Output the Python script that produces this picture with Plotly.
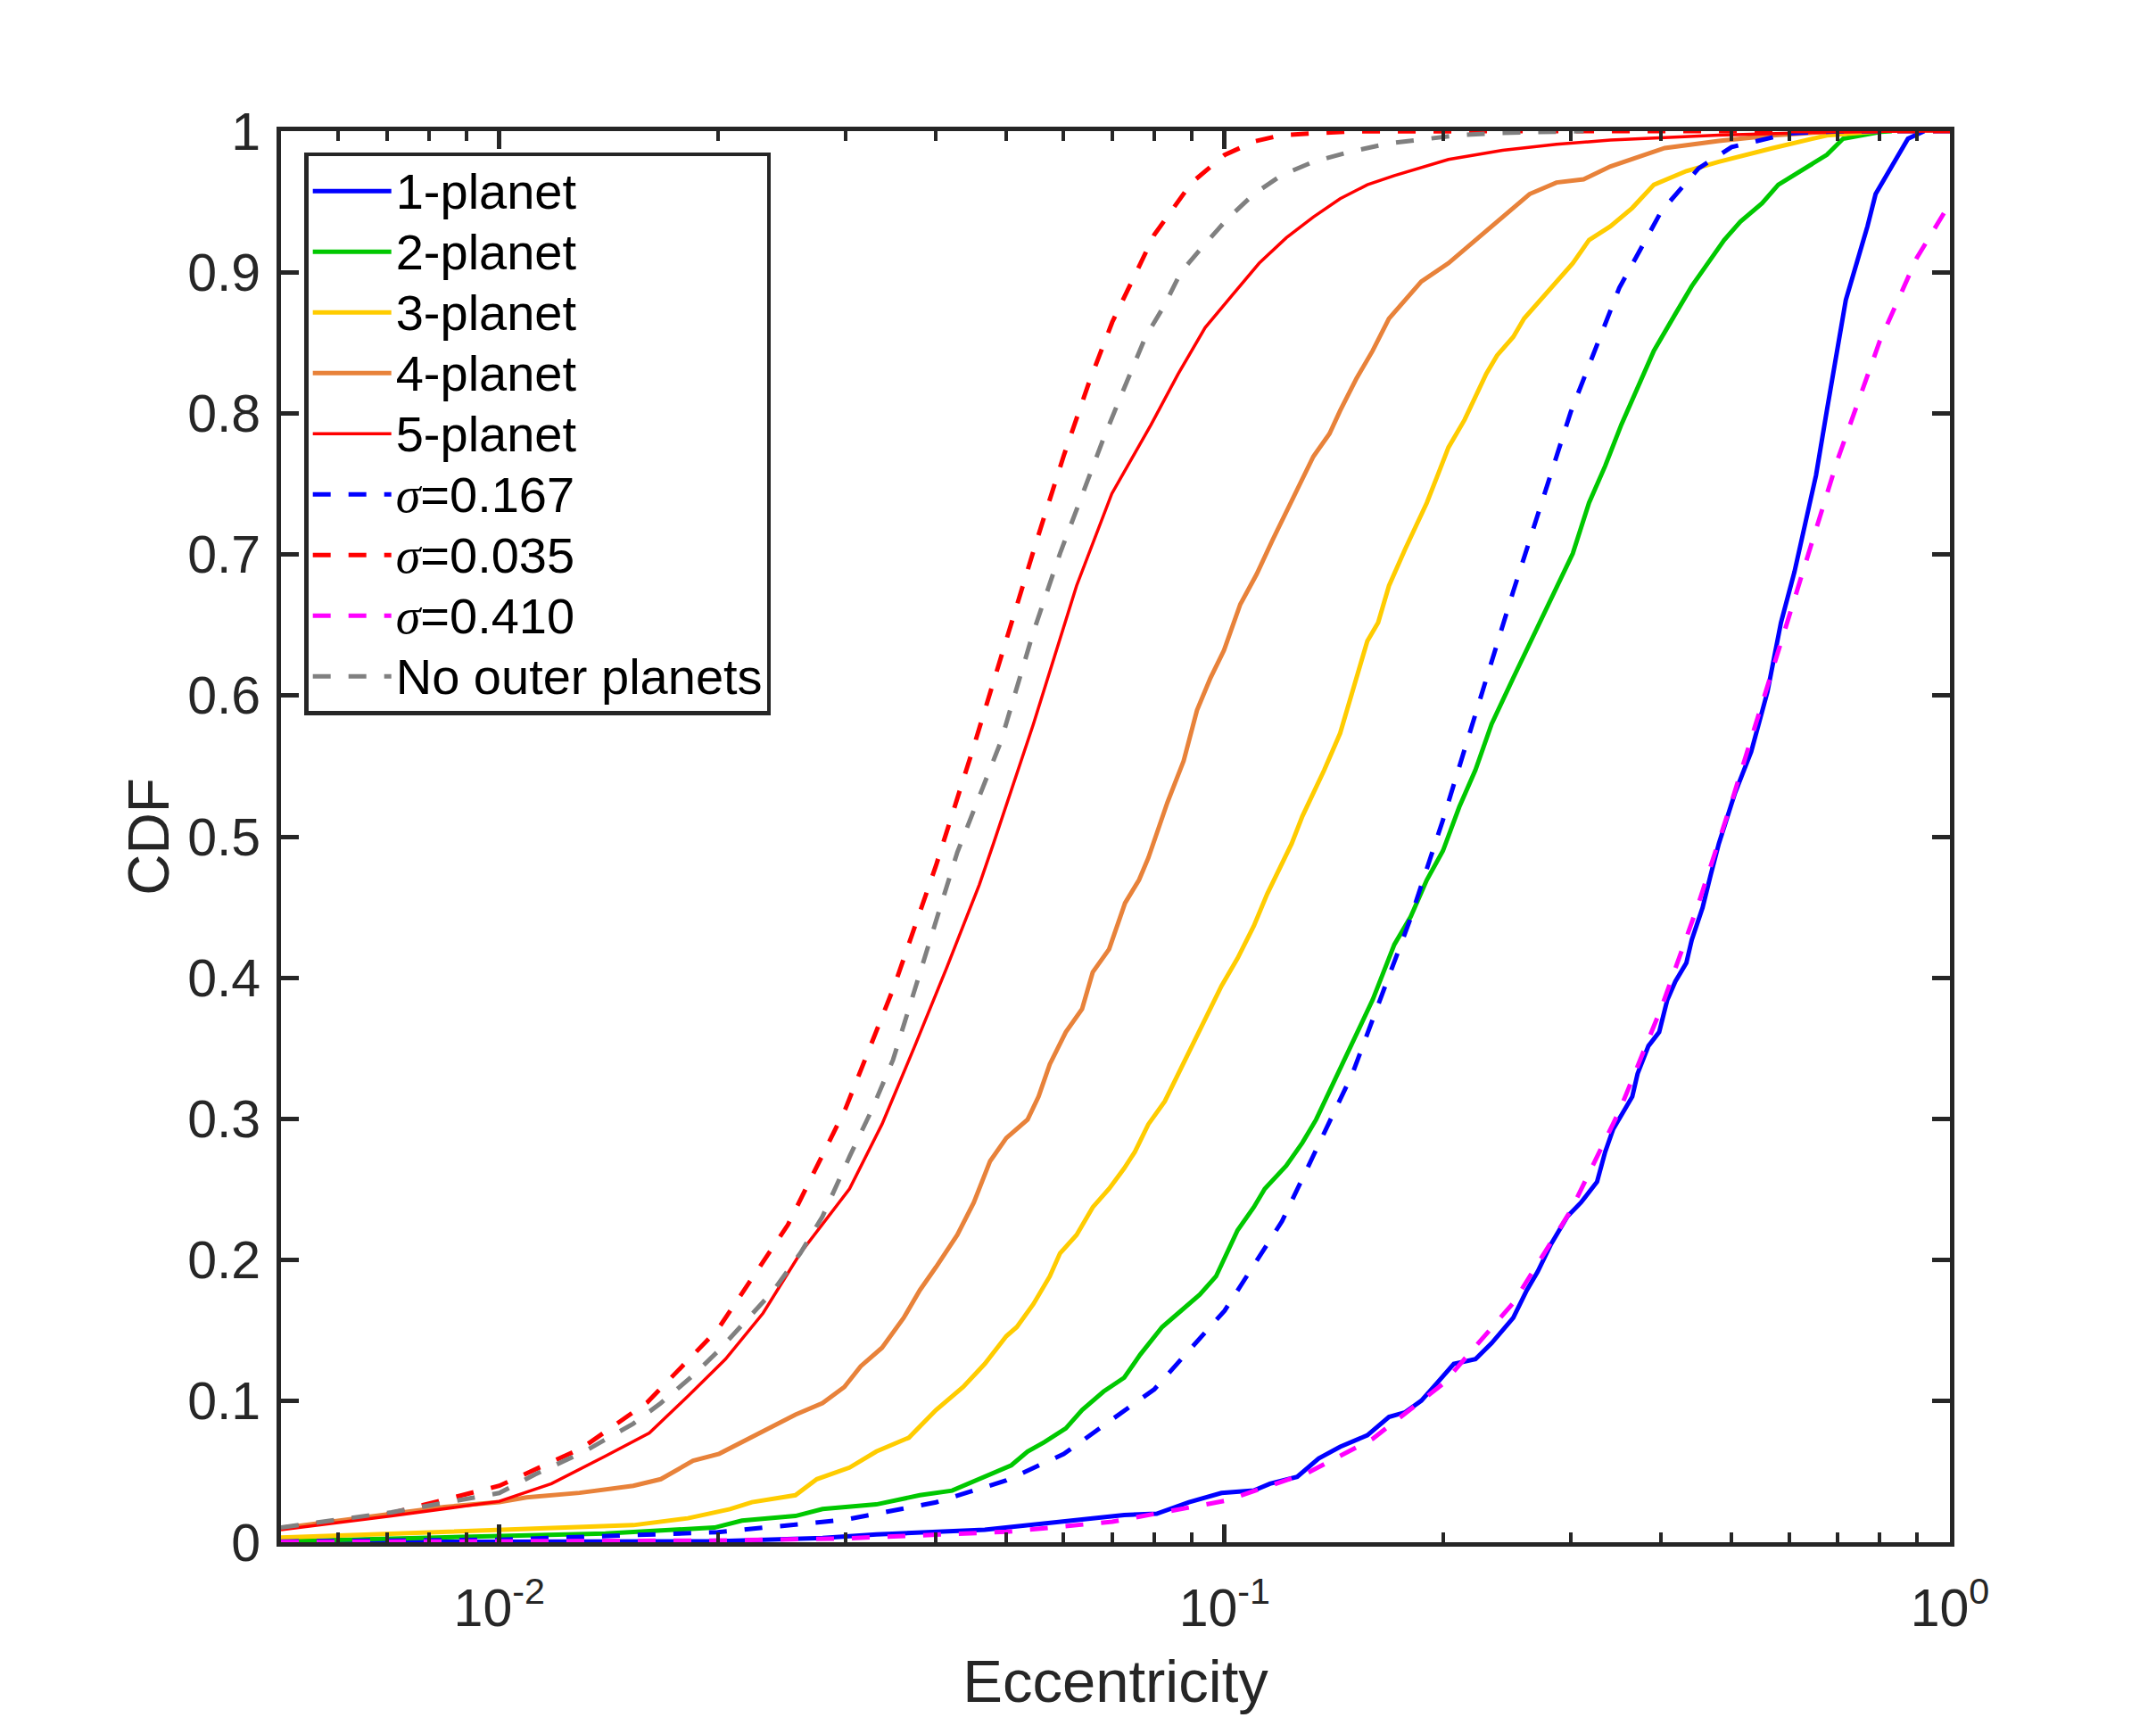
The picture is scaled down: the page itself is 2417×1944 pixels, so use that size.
import plotly.graph_objects as go

# ---- data (eccentricity, CDF) ----
e_1pl = [0.0050, 0.0198, 0.0279, 0.0331, 0.0467, 0.0658, 0.0727, 0.0806, 0.0893, 0.0990,
         0.1097, 0.1155, 0.1259, 0.1348, 0.1443, 0.1573, 0.1685, 0.1774, 0.1867, 0.1967,
         0.2070, 0.2217, 0.2334, 0.2500, 0.2610, 0.2701, 0.2819, 0.2969, 0.3099, 0.3262,
         0.3347, 0.3434, 0.3524, 0.3648, 0.3710, 0.3840, 0.3973, 0.4077, 0.4183, 0.4331,
         0.4406, 0.4560, 0.4677, 0.4801, 0.5053, 0.5321, 0.5603, 0.5848, 0.6104, 0.6316,
         0.6537, 0.6765, 0.7002, 0.7185, 0.7437, 0.7697, 0.7898, 0.8173, 0.8457, 0.8752,
         0.9215]
cdf_1pl = [0.0000, 0.0007, 0.0030, 0.0055, 0.0088, 0.0170, 0.0193, 0.0202, 0.0284, 0.0349,
           0.0366, 0.0415, 0.0464, 0.0594, 0.0676, 0.0758, 0.0888, 0.0921, 0.1003, 0.1134,
           0.1264, 0.1297, 0.1411, 0.1590, 0.1786, 0.1917, 0.2113, 0.2309, 0.2407, 0.2554,
           0.2766, 0.2929, 0.3027, 0.3158, 0.3321, 0.3517, 0.3615, 0.3844, 0.3975, 0.4105,
           0.4268, 0.4497, 0.4726, 0.4950, 0.5308, 0.5602, 0.6027, 0.6517, 0.6876, 0.7203,
           0.7562, 0.8019, 0.8476, 0.8803, 0.9064, 0.9326, 0.9554, 0.9685, 0.9815, 0.9946,
           1.0000]

e_2pl = [0.0050, 0.0100, 0.0140, 0.0198, 0.0216, 0.0256, 0.0279, 0.0331, 0.0380, 0.0421,
         0.0459, 0.0508, 0.0535, 0.0564, 0.0604, 0.0636, 0.0681, 0.0727, 0.0765, 0.0792,
         0.0820, 0.0863, 0.0924, 0.0973, 0.1007, 0.1042, 0.1097, 0.1136, 0.1216, 0.1280,
         0.1337, 0.1383, 0.1431, 0.1482, 0.1547, 0.1600, 0.1656, 0.1714, 0.1805, 0.1900,
         0.2000, 0.2106, 0.2217, 0.2334, 0.2500, 0.2679, 0.2868, 0.3020, 0.3180, 0.3347,
         0.3524, 0.3710, 0.3907, 0.4183, 0.4406, 0.4637, 0.4884, 0.5140, 0.5507, 0.5798,
         0.6316, 0.6765, 0.7122, 0.8031, 0.8313]
cdf_2pl = [0.0007, 0.0040, 0.0062, 0.0104, 0.0153, 0.0186, 0.0235, 0.0268, 0.0333, 0.0366,
           0.0447, 0.0545, 0.0643, 0.0709, 0.0807, 0.0937, 0.1068, 0.1166, 0.1330, 0.1427,
           0.1525, 0.1623, 0.1754, 0.1884, 0.2048, 0.2211, 0.2374, 0.2505, 0.2668, 0.2831,
           0.2995, 0.3158, 0.3321, 0.3485, 0.3681, 0.3844, 0.4040, 0.4236, 0.4432, 0.4693,
           0.4900, 0.5210, 0.5472, 0.5798, 0.6125, 0.6451, 0.6778, 0.7007, 0.7366, 0.7627,
           0.7921, 0.8182, 0.8444, 0.8705, 0.8901, 0.9064, 0.9228, 0.9358, 0.9489, 0.9620,
           0.9734, 0.9832, 0.9946, 0.9995, 1.0000]

e_3pl = [0.0050, 0.0071, 0.0100, 0.0153, 0.0182, 0.0208, 0.0223, 0.0256, 0.0274, 0.0304,
         0.0331, 0.0367, 0.0400, 0.0436, 0.0467, 0.0500, 0.0517, 0.0545, 0.0574, 0.0593,
         0.0625, 0.0658, 0.0693, 0.0727, 0.0752, 0.0785, 0.0827, 0.0863, 0.0909, 0.0948,
         0.0990, 0.1042, 0.1097, 0.1145, 0.1196, 0.1237, 0.1280, 0.1372, 0.1443, 0.1520,
         0.1573, 0.1628, 0.1685, 0.1774, 0.1836, 0.1900, 0.1967, 0.2035, 0.2142, 0.2217,
         0.2295, 0.2375, 0.2500, 0.2588, 0.2724, 0.2868, 0.3020, 0.3180, 0.3404, 0.3648,
         0.3907, 0.4331, 0.4801, 0.5700, 0.6765, 0.8031]
cdf_3pl = [0.0033, 0.0062, 0.0088, 0.0121, 0.0170, 0.0235, 0.0284, 0.0333, 0.0447, 0.0529,
           0.0643, 0.0741, 0.0937, 0.1100, 0.1264, 0.1460, 0.1525, 0.1688, 0.1884, 0.2048,
           0.2178, 0.2374, 0.2505, 0.2650, 0.2766, 0.2962, 0.3125, 0.3321, 0.3550, 0.3746,
           0.3942, 0.4138, 0.4367, 0.4595, 0.4791, 0.4950, 0.5145, 0.5472, 0.5733, 0.6125,
           0.6386, 0.6517, 0.6778, 0.7039, 0.7203, 0.7366, 0.7562, 0.7758, 0.7954, 0.8117,
           0.8281, 0.8411, 0.8542, 0.8672, 0.8803, 0.8934, 0.9064, 0.9228, 0.9326, 0.9456,
           0.9620, 0.9717, 0.9783, 0.9880, 0.9970, 1.0000]

e_4pl = [0.0050, 0.0084, 0.0100, 0.0109, 0.0129, 0.0153, 0.0167, 0.0185, 0.0201, 0.0216,
         0.0235, 0.0256, 0.0279, 0.0299, 0.0315, 0.0337, 0.0361, 0.0380, 0.0400, 0.0428,
         0.0451, 0.0475, 0.0500, 0.0535, 0.0554, 0.0574, 0.0604, 0.0636, 0.0658, 0.0693,
         0.0729, 0.0762, 0.0785, 0.0834, 0.0878, 0.0916, 0.0956, 0.0998, 0.1051, 0.1107,
         0.1165, 0.1216, 0.1259, 0.1325, 0.1395, 0.1443, 0.1520, 0.1600, 0.1685, 0.1774,
         0.1867, 0.2035, 0.2142, 0.2255, 0.2416, 0.2633, 0.2868, 0.3126, 0.3404, 0.3710,
         0.4044, 0.4801, 0.5700, 0.6765, 0.8031]
cdf_4pl = [0.0100, 0.0250, 0.0284, 0.0317, 0.0350, 0.0400, 0.0447, 0.0578, 0.0627, 0.0709,
           0.0807, 0.0904, 0.0986, 0.1100, 0.1247, 0.1378, 0.1590, 0.1786, 0.1950, 0.2178,
           0.2407, 0.2701, 0.2864, 0.2995, 0.3158, 0.3387, 0.3615, 0.3779, 0.4040, 0.4203,
           0.4530, 0.4693, 0.4850, 0.5243, 0.5537, 0.5896, 0.6125, 0.6321, 0.6647, 0.6860,
           0.7105, 0.7301, 0.7464, 0.7693, 0.7856, 0.8019, 0.8248, 0.8444, 0.8672, 0.8803,
           0.8934, 0.9064, 0.9162, 0.9260, 0.9390, 0.9554, 0.9636, 0.9659, 0.9750, 0.9815,
           0.9880, 0.9930, 0.9970, 0.9995, 1.0000]

e_5pl = [0.0050, 0.0071, 0.0100, 0.0118, 0.0140, 0.0161, 0.0182, 0.0205, 0.0231, 0.0260,
         0.0304, 0.0337, 0.0374, 0.0414, 0.0459, 0.0480, 0.0545, 0.0625, 0.0699,
         0.0792, 0.0863, 0.0940, 0.1024, 0.1116, 0.1216, 0.1325, 0.1443, 0.1573, 0.1714,
         0.2035, 0.2416, 0.2868, 0.3404, 0.4044, 0.4801, 0.6209, 0.8031, 1.0000]
cdf_5pl = [0.0088, 0.0186, 0.0290, 0.0415, 0.0610, 0.0774, 0.1035, 0.1297, 0.1623, 0.2048,
           0.2505, 0.2962, 0.3517, 0.4073, 0.4660, 0.4950, 0.5798, 0.6778, 0.7431,
           0.7921, 0.8280, 0.8607, 0.8836, 0.9064, 0.9244, 0.9391, 0.9521, 0.9620, 0.9685,
           0.9799, 0.9864, 0.9907, 0.9936, 0.9956, 0.9972, 0.9988, 0.9998, 1.0000]

e_s0167 = [0.005, 0.01, 0.02, 0.03, 0.04, 0.05, 0.06, 0.08, 0.10, 0.12, 0.15, 0.18, 0.20,
           0.25, 0.30, 0.35, 0.40, 0.45, 0.50, 0.60, 0.70, 1.00]
cdf_s0167 = [0.0005, 0.0018, 0.0071, 0.0160, 0.0283, 0.0438, 0.0625, 0.1084, 0.1641, 0.2275,
             0.3319, 0.4406, 0.5119, 0.6739, 0.8008, 0.8888, 0.9432, 0.9735, 0.9887, 0.9984,
             0.9999, 1.0000]

e_s0035 = [0.005, 0.007, 0.010, 0.013, 0.016, 0.020, 0.025, 0.030, 0.035, 0.040, 0.045,
           0.050, 0.055, 0.060, 0.065, 0.070, 0.080, 0.090, 0.100, 0.110, 0.120, 0.150, 1.000]
cdf_s0035 = [0.0101, 0.0198, 0.0400, 0.0667, 0.0992, 0.1507, 0.2250, 0.3070, 0.3935, 0.4795,
             0.5624, 0.6396, 0.7090, 0.7699, 0.8217, 0.8647, 0.9266, 0.9633, 0.9831, 0.9928,
             0.9972, 0.9999, 1.0000]

e_s0410 = [0.005, 0.01, 0.02, 0.03, 0.05, 0.07, 0.10, 0.13, 0.16, 0.20, 0.25, 0.30, 0.35,
           0.40, 0.45, 0.50, 0.60, 0.70, 0.80, 0.90, 1.00]
cdf_s0410 = [0.0001, 0.0003, 0.0012, 0.0027, 0.0074, 0.0145, 0.0293, 0.0490, 0.0733, 0.1122,
             0.1696, 0.2349, 0.3054, 0.3787, 0.4524, 0.5246, 0.6573, 0.7672, 0.8510, 0.9101,
             0.9489]

e_noouter = [0.0050, 0.0071, 0.0100, 0.0112, 0.0131, 0.0153, 0.0167, 0.0185, 0.0201, 0.0219,
             0.0239, 0.0260, 0.0279, 0.0304, 0.0326, 0.0349, 0.0367, 0.0387, 0.0407, 0.0428,
             0.0491, 0.0545, 0.0593, 0.0636, 0.0681, 0.0723, 0.0778, 0.0827,
             0.0870, 0.0932, 0.1007, 0.1097, 0.1196, 0.1325, 0.1494, 0.1685, 0.1900, 0.2106,
             0.2416, 0.3126]
cdf_noouter = [0.0104, 0.0212, 0.0349, 0.0480, 0.0643, 0.0840, 0.0986, 0.1182, 0.1362, 0.1574,
               0.1786, 0.2048, 0.2309, 0.2733, 0.3060, 0.3419, 0.3779, 0.4171, 0.4530, 0.4889,
               0.5668, 0.6451, 0.7007, 0.7431, 0.7823, 0.8150, 0.8542, 0.8770,
               0.8999, 0.9179, 0.9374, 0.9554, 0.9685, 0.9783, 0.9855, 0.9913, 0.9946, 0.9972,
               0.9988, 1.0000]

x_tickvals = [0.01, 0.1, 1]
x_ticktext = ["10<sup>-2</sup>", "10<sup>-1</sup>", "10<sup>0</sup>"]
x_minorvals = [0.006, 0.007, 0.008, 0.009, 0.02, 0.03, 0.04, 0.05, 0.06, 0.07, 0.08, 0.09,
               0.2, 0.3, 0.4, 0.5, 0.6, 0.7, 0.8, 0.9]
y_tickvals = [0, 0.1, 0.2, 0.3, 0.4, 0.5, 0.6, 0.7, 0.8, 0.9, 1]
y_ticktext = ["0", "0.1", "0.2", "0.3", "0.4", "0.5", "0.6", "0.7", "0.8", "0.9", "1"]

SIG = '<span style="font-family:Liberation Serif"><i>σ</i></span>'


def leg(txt):
    # legend row height follows legend.font.size; glyphs drawn a bit larger
    return '<span style="font-size:56px">' + txt + '</span>'


series = [
    ("1-planet", e_1pl, cdf_1pl, "#0000ff", "solid", 5),
    ("2-planet", e_2pl, cdf_2pl, "#00c800", "solid", 5),
    ("3-planet", e_3pl, cdf_3pl, "#ffcc00", "solid", 5),
    ("4-planet", e_4pl, cdf_4pl, "#e8823a", "solid", 5),
    ("5-planet", e_5pl, cdf_5pl, "#ff0000", "solid", 3.5),
    (SIG + "=0.167", e_s0167, cdf_s0167, "#0000ff", "20px,20px", 5),
    (SIG + "=0.035", e_s0035, cdf_s0035, "#ff0000", "20px,20px", 5),
    (SIG + "=0.410", e_s0410, cdf_s0410, "#ff00ff", "20px,20px", 5),
    ("No outer planets", e_noouter, cdf_noouter, "#808080", "20px,20px", 5),
]

fig = go.Figure()
for name, xs, ys, color, dash, width in series:
    fig.add_trace(go.Scatter(x=xs, y=ys, mode="lines", name=leg(name),
                             line=dict(color=color, dash=dash, width=width)))

AX = "#262626"
FONT = "Liberation Sans, Arial, Helvetica, sans-serif"

fig.update_layout(
    width=2417, height=1944,
    margin=dict(l=315, r=231, t=147, b=215),
    paper_bgcolor="white", plot_bgcolor="white",
    font=dict(family=FONT, size=59, color=AX),
    showlegend=True,
    legend=dict(x=0.014, y=0.985, xanchor="left", yanchor="top",
                bgcolor="white", bordercolor=AX, borderwidth=4.5,
                font=dict(size=50, color="black"), itemwidth=88,
                tracegroupgap=0),
    xaxis=dict(type="log", range=[-2.301, 0], showgrid=False, zeroline=False,
               showline=True, linecolor=AX, linewidth=5, mirror="ticks",
               ticks="inside", ticklen=20, tickwidth=4.5, tickcolor=AX,
               tickmode="array", tickvals=x_tickvals, ticktext=x_ticktext,
               ticklabelstandoff=18,
               minor=dict(ticks="inside", ticklen=11, tickwidth=4, tickcolor=AX,
                          tickmode="array", tickvals=x_minorvals, showgrid=False),
               title=dict(text="Eccentricity", font=dict(size=67, color=AX), standoff=28)),
    yaxis=dict(range=[0, 1], showgrid=False, zeroline=False,
               showline=True, linecolor=AX, linewidth=5, mirror="ticks",
               ticks="inside", ticklen=20, tickwidth=4.5, tickcolor=AX,
               tickmode="array", tickvals=y_tickvals, ticktext=y_ticktext,
               ticklabelstandoff=6,
               title=dict(text="CDF", font=dict(size=64, color=AX), standoff=1)),
)

fig.write_html("out.html", config={"displayModeBar": False},
               post_script="document.body.style.margin='0';")
